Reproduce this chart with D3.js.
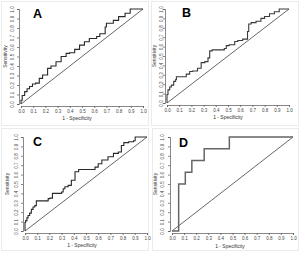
<!DOCTYPE html>
<html><head><meta charset="utf-8">
<script src="https://cdn.jsdelivr.net/npm/d3@7"></script>
<style>body{margin:0;background:#fff}svg{display:block}</style>
</head><body>
<svg id="c" width="300" height="253"></svg>
<script>
const panelLabels = ["A","B","C","D"];
const tickValues = [0,0.1,0.2,0.3,0.4,0.5,0.6,0.7,0.8,0.9,1.0];
const xTitle = "1 - Specificity";
const yTitle = "Sensitivity";

// ROC series (1 - specificity, sensitivity)
const fprA = [0,0.01,0.03,0.05,0.07,0.094,0.12,0.15,0.177,0.218,0.246,0.287,0.329,0.37,0.398,0.44,0.48,0.52,0.56,0.62,0.646,0.69,0.70,0.757,0.80,0.853,0.895,0.92,1.0];
const tprA = [0,0.04,0.09,0.13,0.16,0.185,0.21,0.22,0.27,0.305,0.375,0.40,0.445,0.50,0.533,0.54,0.575,0.62,0.656,0.69,0.71,0.74,0.81,0.85,0.88,0.92,0.955,1.0,1.0];

const fprB = [0,0.008,0.022,0.036,0.055,0.071,0.077,0.098,0.158,0.186,0.21,0.25,0.28,0.31,0.336,0.35,0.37,0.40,0.47,0.486,0.51,0.555,0.58,0.62,0.66,0.67,0.69,0.73,0.77,0.80,0.84,0.88,0.92,0.95,1.0];
const tprB = [0,0.09,0.14,0.17,0.19,0.23,0.25,0.28,0.28,0.307,0.335,0.34,0.37,0.43,0.44,0.48,0.555,0.565,0.565,0.58,0.61,0.62,0.655,0.665,0.68,0.76,0.84,0.855,0.87,0.90,0.92,0.95,0.97,1.0,1.0];

const fprC = [0,0.005,0.016,0.025,0.038,0.052,0.066,0.08,0.093,0.107,0.19,0.203,0.225,0.245,0.30,0.313,0.327,0.354,0.38,0.41,0.44,0.45,0.574,0.60,0.63,0.68,0.725,0.766,0.79,0.81,0.85,0.89,0.903,0.93,1.0];
const tprC = [0,0.09,0.11,0.14,0.165,0.19,0.23,0.255,0.27,0.32,0.32,0.344,0.35,0.40,0.40,0.415,0.45,0.47,0.485,0.54,0.63,0.655,0.655,0.68,0.716,0.755,0.79,0.826,0.84,0.91,0.94,0.95,0.96,1.0,1.0];

const fprD = [0,0.055,0.055,0.11,0.11,0.164,0.164,0.266,0.266,0.474,0.474,1.0];
const tprD = [0,0,0.5,0.5,0.625,0.625,0.75,0.75,0.875,0.875,1.0,1.0];

const series = [[fprA,tprA],[fprB,tprB],[fprC,tprC],[fprD,tprD]];

// layout per panel (pixels)
const layout = [
  {box:[1,1,148,125], x:[21,143], y:[104,9], lab:[33,18], ytl:13, yt:6, xtl:112, xt:119, xtc:77},
  {box:[151,1,298,125], x:[167,289], y:[103,9], lab:[182,17], ytl:162, yt:155, xtl:111, xt:118, xtc:228},
  {box:[1,128,148,250], x:[25,147], y:[231,137], lab:[33,146], ytl:17, yt:8, xtl:239, xt:246, xtc:82},
  {box:[152,128,298,250], x:[172,293], y:[231,137], lab:[179,147], ytl:163, yt:156, xtl:239, xt:247, xtc:230}
];
const curveColor = ["#2a2a2a","#3a3a3a","#2a2a2a","#666"];
const curveWidth = [1.1,1.1,1.1,1.5];

const svg = d3.select("#c");
layout.forEach((L,i)=>{
  const g = svg.append("g");
  g.append("rect").attr("x",L.box[0]+0.5).attr("y",L.box[1]+0.5)
    .attr("width",L.box[2]-L.box[0]).attr("height",L.box[3]-L.box[1])
    .attr("fill","none").attr("stroke","#ebebeb").attr("stroke-width",1);
  const x = d3.scaleLinear().domain([0,1]).range(L.x);
  const y = d3.scaleLinear().domain([0,1]).range(L.y);
  const xa = d3.axisBottom(x).tickValues(tickValues).tickFormat(d3.format(".1f")).tickSize(2).tickPadding(1.5);
  const ya = d3.axisLeft(y).tickValues(tickValues).tickFormat(d3.format(".1f")).tickSize(2).tickPadding(1.5);
  const gx = g.append("g").attr("transform",`translate(0,${L.y[0]+2})`).call(xa);
  const gy = g.append("g").attr("transform",`translate(${L.x[0]-2},0)`).call(ya);
  [gx,gy].forEach(a=>{
    a.select(".domain").attr("stroke","#555").attr("stroke-width",0.7);
    a.selectAll(".tick line").attr("stroke","#555").attr("stroke-width",0.7);
    a.selectAll("text").attr("font-family","Liberation Sans, Arial, sans-serif").attr("font-size",4.5).attr("fill","#444");
  });
  gy.selectAll(".tick text").attr("text-anchor","middle").attr("dy",null)
    .attr("x",null).attr("transform",d=>`translate(${L.ytl-(L.x[0]-2)},0) rotate(-90)`).attr("dominant-baseline","middle");
  gx.selectAll(".tick text").attr("dy",null).attr("y",L.xtl-(L.y[0]+2)).attr("dominant-baseline","middle");
  g.append("text").attr("x",L.xtc).attr("y",L.xt).attr("text-anchor","middle").attr("dominant-baseline","middle")
    .attr("font-family","Liberation Sans, Arial, sans-serif").attr("font-size",5).attr("fill","#333").text(xTitle);
  g.append("text").attr("transform",`translate(${L.yt},${(L.y[0]+L.y[1])/2}) rotate(-90)`)
    .attr("text-anchor","middle").attr("dominant-baseline","middle")
    .attr("font-family","Liberation Sans, Arial, sans-serif").attr("font-size",5).attr("fill","#333").text(yTitle);
  // diagonal
  g.append("line").attr("x1",x(0)).attr("y1",y(0)).attr("x2",x(1)).attr("y2",y(1))
    .attr("stroke","#555").attr("stroke-width",0.9);
  const [fx,ty] = series[i];
  const pts = fx.map((v,k)=>[v,ty[k]]);
  const line = d3.line().x(d=>x(d[0])).y(d=>y(d[1])).curve(i===3?d3.curveLinear:d3.curveStepBefore);
  g.append("path").attr("d",line(pts)).attr("fill","none")
    .attr("stroke",curveColor[i]).attr("stroke-width",curveWidth[i]);
  g.append("text").attr("x",L.lab[0]).attr("y",L.lab[1])
    .attr("font-family","Liberation Sans, Arial, sans-serif").attr("font-weight","bold")
    .attr("font-size",12.5).attr("fill","#000").text(panelLabels[i]);
});
</script>
</body></html>
